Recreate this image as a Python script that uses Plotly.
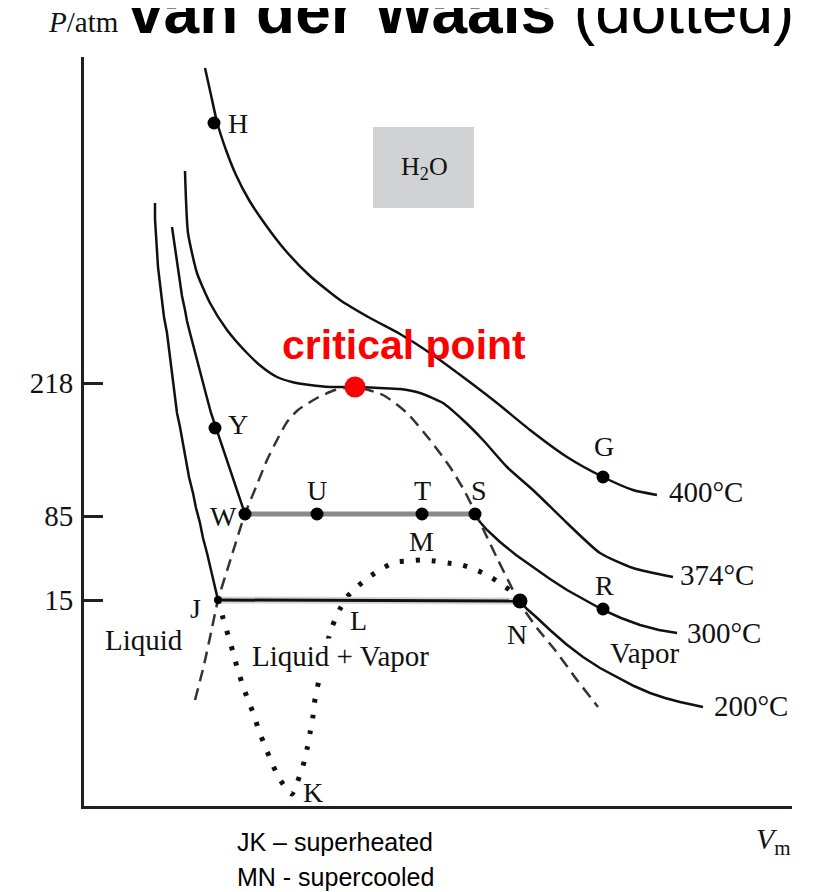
import plotly.graph_objects as go

SERIF = "Liberation Serif, Times New Roman, serif"
SANS = "Liberation Sans, Arial, sans-serif"
INK = "#111111"

# isotherms (V and P in arbitrary drawing units)
v_400 = [121, 127, 133, 142, 152, 165, 181, 201, 226, 256, 286, 316, 346, 379, 413, 446, 483, 519, 549, 573]
p_400 = [738, 711, 684, 656, 631, 606, 582, 556, 530, 506, 488, 472, 453, 429, 403, 376, 349, 329, 316, 311]

v_374 = [101, 102, 104, 113, 126, 143, 163, 178, 193, 208, 226, 246, 271, 296, 316, 336, 359, 379, 399, 423,
         449, 483, 516, 549, 589]
p_374 = [635, 606, 573, 533, 503, 476, 453, 439, 429, 424, 421, 419, 419, 418, 417, 413, 403, 386, 366, 339,
         316, 283, 253, 238, 229]

v_300 = [88, 90, 92, 94, 96, 98, 101, 103, 106, 110, 114, 118, 123, 127, 132, 137, 143, 147, 152, 156, 161,
         390, 396, 403, 409, 416, 432, 449, 466, 483, 501, 519, 537, 556, 575, 593]
p_300 = [579, 565, 551, 537, 523, 510, 496, 485, 473, 457, 441, 425, 408, 393, 378, 362, 346, 332, 319, 305, 292,
         292, 284, 276, 270, 264, 251, 239, 227, 216, 206, 196, 188, 181, 176, 173]

v_200 = [71, 71, 72, 73, 74, 76, 78, 80, 83, 85, 87, 89, 91, 93, 96, 99, 102, 105, 109, 112, 116, 119, 123,
         126, 129, 131, 134, 436, 443, 451, 458, 466, 482, 499, 516, 533, 550, 566, 581, 596, 608, 619]
p_200 = [603, 587, 571, 555, 539, 522, 506, 489, 473, 457, 441, 424, 408, 393, 379, 362, 346, 329, 313, 298,
         283, 268, 253, 240, 228, 217, 206, 205, 197, 190, 183, 176, 162, 149, 138, 129, 120, 113, 108, 104,
         101, 99]

# coexistence dome (dashed)
v_dome = [111, 120, 128, 134, 147, 161, 172, 183, 193, 203, 214, 233, 251, 271, 299, 323, 346, 366, 381, 392,
          402, 414, 424, 435, 453, 471, 493, 514]
p_dome = [106, 141, 178, 206, 248, 292, 319, 346, 366, 384, 396, 408, 416, 419, 411, 393, 366, 339, 314, 292,
          271, 246, 226, 204, 178, 156, 126, 99]

# van der Waals loop at 200 C (dotted)
v_vdw = [134, 139, 144, 149, 153, 158, 164, 170, 175, 181, 187, 194, 203, 208, 213, 219, 223, 226, 229, 231,
         235, 240, 248, 256, 263, 273, 285, 297, 311, 323, 337, 351, 364, 378, 390, 403, 416, 428, 436]
p_vdw = [206, 188, 171, 154, 139, 123, 106, 91, 75, 60, 45, 30, 16, 12, 23, 40, 57, 73, 90, 107,
         126, 151, 179, 197, 209, 219, 229, 237, 244, 245, 246, 245, 243, 241, 237, 231, 223, 214, 206]

# tie lines
v_ws = [161, 391]
p_ws = [292, 292]
v_jn = [134, 436]
p_jn = [206, 205]

# labelled states
pt_names = ["H", "Y", "W", "U", "T", "S", "G", "R", "N", "J"]
pt_v = [130, 131, 161, 233, 338, 391, 519, 519, 436, 134]
pt_p = [683, 378, 292, 292, 292, 292, 329, 197, 205, 206]
pt_size = [13, 13, 13, 13, 13, 13, 13, 13, 15, 8]
crit_v = [271]
crit_p = [419]

# text labels
lab_text = ["H", "Y", "W", "U", "T", "S", "G", "R", "M", "L", "N", "J", "K"]
lab_v = [154, 154, 139, 233, 338, 395, 520, 520, 337, 274, 433, 111, 229]
lab_p = [683, 382, 290, 316, 316, 316, 360, 221, 265, 186, 172, 198, 14]

iso_text = ["400°C", "374°C", "300°C", "200°C"]
iso_v = [583, 594, 601, 628]
iso_p = [314, 231, 173, 100]

region_text = ["Liquid", "Liquid + Vapor", "Vapor"]
region_v = [60, 256, 561]
region_p = [166, 150, 153]

p_ticks = [423, 290, 206]
p_tick_text = ["218", "85", "15"]

V_MAX, P_MAX = 708, 749

fig = go.Figure()


def curve(v, p, width=2.5, color=INK, dash="solid", shape="linear"):
    fig.add_trace(go.Scatter(x=v, y=p, mode="lines", hoverinfo="skip",
                             line=dict(color=color, width=width, dash=dash, shape=shape, smoothing=0.6)))


curve(v_400, p_400, shape="spline")
curve(v_374, p_374, shape="spline")
curve(v_300, p_300)
curve(v_200, p_200)
curve(v_dome, p_dome, width=2.5, color="#333333", dash="12px,7px", shape="spline")
curve(v_vdw, p_vdw, width=5, color=INK, dash="4px,12px", shape="spline")
curve(v_ws, p_ws, width=5, color="#8a8a8a")
curve(v_jn, p_jn, width=7, color="#d6d6d6")
curve(v_jn, p_jn, width=3, color=INK)

fig.add_trace(go.Scatter(x=pt_v, y=pt_p, mode="markers", text=pt_names, hoverinfo="text",
                         marker=dict(color="#000000", size=pt_size, opacity=1, line=dict(width=0))))
fig.add_trace(go.Scatter(x=crit_v, y=crit_p, mode="markers", hoverinfo="skip",
                         marker=dict(color="#ff0000", size=21, opacity=1, line=dict(width=0))))

annotations = []
for t, v, p in zip(lab_text, lab_v, lab_p):
    annotations.append(dict(x=v, y=p, text=t, font=dict(family=SERIF, size=28, color=INK)))
for t, v, p in zip(iso_text, iso_v, iso_p):
    annotations.append(dict(x=v, y=p, text=t, xanchor="left", font=dict(family=SERIF, size=29, color=INK)))
for t, v, p in zip(region_text, region_v, region_p):
    annotations.append(dict(x=v, y=p, text=t, bgcolor="white" if "+" in t else None,
                            font=dict(family=SERIF, size=29, color=INK)))
annotations += [
    dict(x=320, y=461, text="<b>critical point</b>", font=dict(family=SANS, size=41, color="#ff0000")),
    dict(x=340, y=638, text="H<sub>2</sub>O", font=dict(family=SERIF, size=26, color=INK)),
]
for a in annotations:
    a.setdefault("xanchor", "center")
    a.update(xref="x", yref="y", yanchor="middle", showarrow=False)

# texts outside the axes, placed in paper units
outside = [
    dict(x=-1, y=784, text="<i>P</i>/atm", font=dict(family=SERIF, size=29, color=INK)),
    dict(x=689, y=-35, text="<i>V</i><sub>m</sub>", font=dict(family=SERIF, size=30, color=INK)),
    dict(x=151, y=-36, text="JK – superheated", xanchor="left", font=dict(family=SANS, size=25, color="black")),
    dict(x=151, y=-71, text="MN - supercooled", xanchor="left", font=dict(family=SANS, size=25, color="black")),
    dict(x=42, y=757, text="<b>van der Waals</b> (dotted)", xanchor="left", yanchor="bottom",
         font=dict(family=SANS, size=64, color="black")),
]
for a in outside:
    a.setdefault("xanchor", "center")
    a.setdefault("yanchor", "middle")
    a.update(x=a["x"] / V_MAX, y=a["y"] / P_MAX, xref="paper", yref="paper", showarrow=False)
    annotations.append(a)

# the page body adds an 8px offset, so the figure is drawn 8px smaller
fig.update_layout(
    width=805,
    height=884,
    margin=dict(l=76, r=21, t=49, b=86),
    paper_bgcolor="white",
    plot_bgcolor="white",
    showlegend=False,
    annotations=annotations,
    shapes=[dict(type="rect", xref="x", yref="y", x0=289, x1=390, y0=598, y1=679,
                 fillcolor="#d1d2d4", line=dict(width=0), layer="below")],
    xaxis=dict(range=[0, V_MAX], showgrid=False, zeroline=False, showline=True, linewidth=3,
               linecolor="#231f20", showticklabels=False, ticks=""),
    yaxis=dict(range=[0, P_MAX], showgrid=False, zeroline=False, showline=True, linewidth=3,
               linecolor="#231f20", ticks="inside", ticklen=19, tickwidth=3, tickcolor="#231f20",
               tickvals=p_ticks, ticktext=p_tick_text, ticklabelstandoff=2,
               tickfont=dict(family=SERIF, size=29, color=INK)),
)

fig.write_html("out.html")
